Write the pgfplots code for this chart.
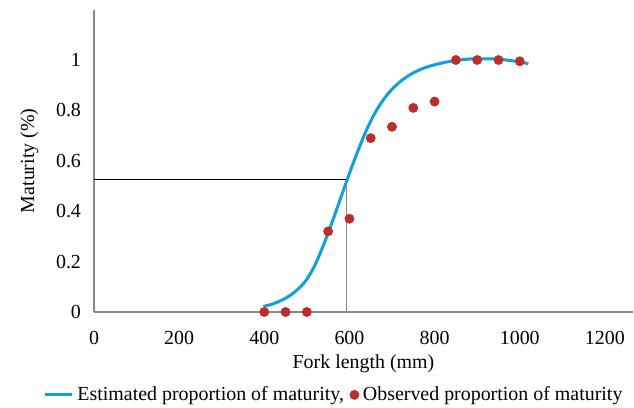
\documentclass[border=0pt]{standalone}
\usepackage{fontspec}
\setmainfont{Liberation Serif}
\usepackage{pgfplots}
\pgfplotsset{compat=1.18}
\definecolor{estblue}{RGB}{12,160,230}
\definecolor{obsred}{RGB}{190,45,42}
\definecolor{axgray}{RGB}{137,137,137}

\begin{document}
\begin{tikzpicture}
\begin{axis}[
  scale only axis, width=269.5bp, height=151.2bp,
  xmin=0, xmax=1266, ymin=0, ymax=1.2,
  axis lines=left, axis line style={axgray, line width=0.7bp, -},
  xtick={0,200,...,1200}, ytick={0,0.2,...,1},
  major tick length=0pt,
  /pgf/number format/assume math mode=true,
  /pgf/number format/.cd, fixed, precision=1, 1000 sep={}, /pgfplots/.cd,
  tick label style={font=\fontsize{10}{12}\selectfont},
  xticklabel style={yshift=-6bp},
  yticklabel style={xshift=-3bp},
  xlabel={Fork length (mm)}, ylabel={Maturity (\%)},
  label style={font=\fontsize{10}{12}\selectfont},
  xlabel style={yshift=1.5bp}, ylabel style={yshift=2bp},
  clip=false,
  legend style={at={(0.447,-0.274)}, anchor=center, draw=none, fill=none,
    inner sep=0pt, legend columns=2, font=\fontsize{10}{12}\selectfont,
    /tikz/every even column/.append style={column sep=1bp}},
  legend cell align=left,
]
\addplot[estblue, line width=1.5bp, smooth, no marks,
  legend image code/.code={\draw[estblue, line width=1.5bp] (0bp,0bp) -- (13.5bp,0bp);}] coordinates {
  (398,0.022) (420,0.032) (440,0.046) (460,0.065) (480,0.092) (500,0.13)
  (520,0.19) (540,0.27) (560,0.36) (580,0.455) (600,0.55) (620,0.64)
  (640,0.722) (660,0.79) (680,0.843) (700,0.884) (725,0.922) (750,0.949)
  (775,0.968) (800,0.981) (825,0.991) (850,0.998) (875,1.003) (900,1.005)
  (950,1.003) (1000,0.993) (1020,0.985)};
\addlegendentry{Estimated proportion of maturity,}
\addplot[only marks, mark=*, mark size=2.25bp, obsred, mark options={draw=obsred, fill=obsred}] coordinates {
  (400,0) (450,0) (500,0) (550,0.32) (600,0.37) (650,0.69) (700,0.735)
  (750,0.81) (800,0.835) (850,1.0) (900,1.0) (950,1.0) (1000,0.995)};
\addlegendentry{Observed proportion of maturity}
\addplot[black, line width=0.5bp, forget plot] coordinates {(0,0.525) (593,0.525)};
\addplot[axgray, line width=0.7bp, forget plot] coordinates {(593,0.525) (593,0)};
\end{axis}
\path ([shift={(-47bp,-48bp)}]current axis.south west) rectangle ([shift={(0.5bp,4.8bp)}]current axis.north east);
\end{tikzpicture}
\end{document}
